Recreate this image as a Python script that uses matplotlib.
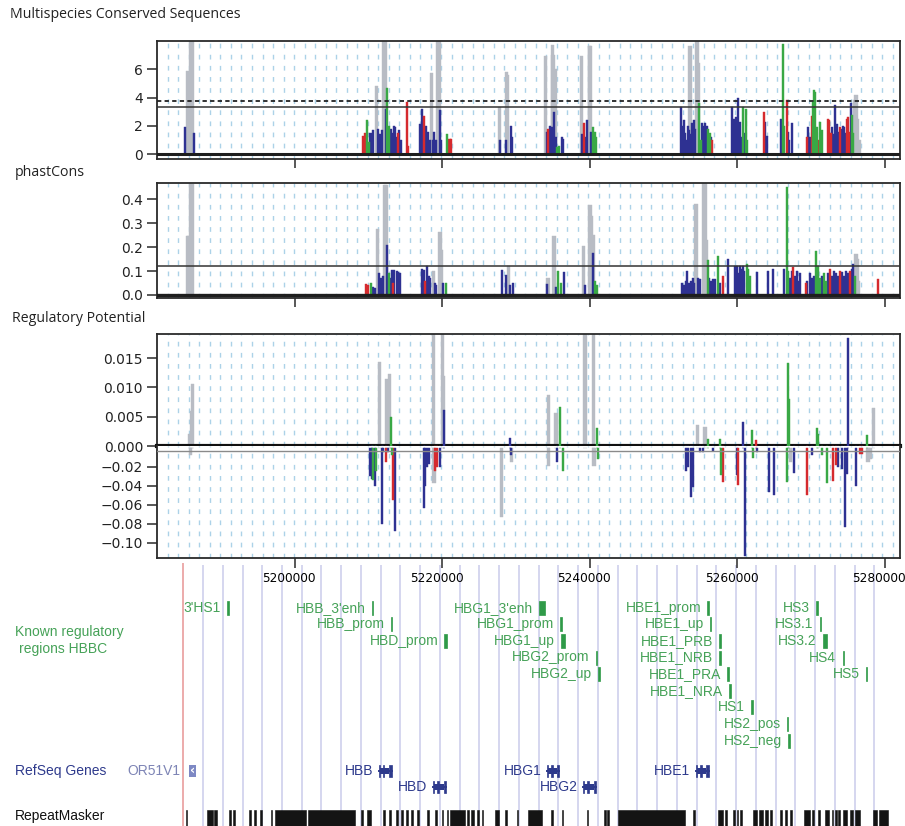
import numpy as np
import matplotlib.pyplot as plt
from matplotlib.patches import Rectangle
from matplotlib.transforms import ScaledTranslation

W, H = 905, 826
XLIM = (5181.29, 5282.04)  # kb
XTICKS = [5200, 5220, 5240, 5260, 5280]
PALETTE = {"b": "#2e3192", "r": "#d52a2e", "g": "#39a845", "y": "#b8bcc4"}
FRAME = "#2a2a2a"
GREEN_TXT = "#46a258"
GREEN_BAR = "#2f9a48"
NAVY = "#2e3a8c"

# ---- Multispecies Conserved Sequences (position kb, score, colour code) ----
mcs_pos = [
    5185.13, 5185.42, 5185.63, 5185.90, 5186.08, 5186.35,
    5209.26, 5209.45, 5209.63, 5209.80, 5210.04, 5210.24, 5210.44, 5210.62, 5211.08, 5211.26,
    5211.46, 5211.66, 5211.84, 5212.07, 5212.21, 5212.34, 5212.52, 5212.71, 5212.88, 5213.06,
    5213.25, 5213.43, 5213.60, 5213.79, 5213.97, 5214.14, 5214.33, 5215.23, 5215.35,
    5216.99, 5217.18, 5217.36, 5217.53, 5217.72, 5217.90, 5218.08, 5218.31, 5218.54, 5218.71,
    5218.85, 5219.12, 5219.39, 5219.53, 5219.66, 5219.80, 5220.57, 5220.95, 5221.16,
    5227.70, 5227.80, 5228.57, 5228.71, 5228.84, 5229.29, 5229.43,
    5234.00, 5234.13, 5234.35, 5234.58, 5234.81, 5234.89, 5234.99, 5235.16, 5235.26, 5235.39,
    5235.57, 5235.80, 5236.16, 5236.38,
    5238.88, 5238.99, 5239.19, 5239.39, 5239.64, 5239.91, 5240.00, 5240.10, 5240.28, 5240.45,
    5240.64, 5240.82,
    5252.34, 5252.52, 5252.71, 5252.89, 5253.06, 5253.25, 5253.43, 5253.56, 5253.70, 5253.87,
    5254.06, 5254.24, 5254.47, 5254.58, 5254.69, 5254.83, 5255.01, 5255.19, 5255.37, 5255.56,
    5255.73, 5255.87, 5256.05, 5256.23, 5256.41, 5256.59,
    5259.30, 5259.46, 5259.67, 5259.84, 5260.03, 5260.21, 5260.38, 5260.57, 5260.75, 5260.93,
    5261.12, 5261.29,
    5263.60, 5263.77, 5263.97,
    5265.90, 5266.21, 5266.35, 5266.67, 5266.85, 5267.03, 5267.35,
    5269.39, 5269.61, 5269.84, 5270.07, 5270.24, 5270.38, 5270.55, 5270.75, 5270.92, 5271.15,
    5271.33, 5271.50,
    5272.28, 5272.45, 5272.64, 5272.82, 5273.00, 5273.18, 5273.36, 5273.53, 5273.73, 5273.90,
    5274.08, 5274.27, 5274.45, 5274.62, 5274.81, 5274.99, 5275.16, 5275.36, 5275.53, 5275.71,
    5275.90, 5276.07, 5276.25, 5276.48,
]
mcs_val = [
    1.9, 5.9, 5.6, 8.5, 8.5, 1.5,
    1.3, 1.5, 1.0, 2.4, 0.9, 1.5, 1.3, 1.7, 4.8, 1.8,
    1.4, 1.2, 1.7, 8.5, 8.5, 3.2, 4.7, 2.0, 1.6, 1.8,
    1.5, 2.0, 1.9, 1.2, 1.5, 1.7, 1.0, 3.7, 0.6,
    2.1, 3.2, 1.9, 2.7, 2.0, 1.5, 1.6, 1.0, 5.7, 1.0,
    1.6, 1.0, 8.5, 8.5, 3.1, 1.0, 1.4, 1.1, 1.1,
    3.3, 1.0, 1.0, 5.8, 5.6, 2.0, 1.2,
    6.9, 1.6, 1.8, 2.0, 1.95, 7.7, 7.0, 3.0, 6.0, 1.2,
    0.55, 0.6, 1.25, 1.1,
    6.9, 1.4, 2.2, 1.2, 2.4, 7.6, 7.6, 1.6, 1.0, 1.95,
    1.6, 1.2,
    3.3, 2.0, 2.4, 1.5, 1.0, 2.0, 1.7, 7.6, 1.4, 2.2,
    2.4, 1.8, 8.5, 8.5, 6.4, 3.6, 1.0, 2.2, 2.0, 2.2,
    1.5, 2.0, 1.8, 1.5, 1.2, 1.0,
    3.35, 2.5, 1.4, 2.6, 4.0, 2.0, 2.3, 1.2, 3.35, 1.5,
    3.2, 1.0,
    3.0, 2.3, 1.3,
    2.5, 7.8, 2.0, 3.8, 1.6, 1.0, 2.2,
    1.2, 1.9, 1.2, 2.7, 3.7, 4.5, 4.4, 1.95, 1.0, 2.25,
    1.4, 1.7,
    2.5, 2.4, 1.5, 1.95, 1.4, 3.5, 1.9, 2.1, 1.6, 1.95,
    1.8, 2.0, 1.9, 1.5, 2.5, 2.6, 1.6, 3.6, 2.8, 1.5,
    3.8, 4.2, 2.5, 1.0,
]
mcs_col = ("byyyyb" "rrrggbbbyb" "bbbyybggbb" "bbbbrbbrr" "bbbrbbbbyb" "bbyybbgrr"
           "ybbyybb" "ybrbbyybyb" "ggbb" "ybrbbyybbg" "gg"
           "bbbbbbbybb" "bbyyyggbbb" "bbggbr" "bbbbbbbbgb" "gg" "rbb" "bggrbbb"
           "rbbrggggrg" "gg" "rrrbbbbbbr" "bbbbrrrbgg" "yyyy")
mcs_dashed = 3.77
mcs_solid = 3.33

# ---- phastCons ----
phc_pos = [
    5185.42, 5185.63, 5185.83, 5186.04,
    5209.67, 5209.86, 5210.27, 5210.54, 5210.81, 5211.22, 5211.43, 5211.66, 5211.90, 5212.21,
    5212.34, 5212.52, 5212.75, 5212.92, 5213.11, 5213.25, 5213.47, 5213.79, 5214.01, 5214.24,
    5217.22, 5217.45, 5217.63, 5217.94, 5218.13, 5218.31, 5218.75, 5218.99, 5219.16, 5219.66,
    5219.84, 5220.03, 5220.48,
    5228.03, 5228.61, 5228.93, 5229.16, 5229.52,
    5234.21, 5234.31, 5235.12, 5235.39, 5235.71, 5236.07, 5236.48,
    5239.09, 5239.33, 5240.00, 5240.14, 5240.37, 5240.50, 5240.68, 5240.95,
    5252.52, 5252.75, 5253.02, 5253.20, 5253.43, 5253.70, 5253.97, 5254.11, 5254.38, 5254.65,
    5254.92, 5255.46, 5255.60, 5255.73, 5255.96, 5256.14, 5256.41, 5256.68, 5256.95, 5257.40,
    5257.63, 5258.00,
    5258.68, 5259.62, 5259.80, 5259.98, 5260.17, 5260.34, 5260.52, 5260.71, 5260.89, 5261.25,
    5261.43, 5261.70, 5262.69,
    5264.10, 5264.78,
    5266.35, 5266.67, 5266.85, 5267.12, 5267.35, 5267.57, 5267.80, 5268.03, 5268.25, 5268.48,
    5269.25, 5269.47, 5269.84, 5270.11, 5270.38, 5270.65, 5270.92, 5271.19, 5271.46, 5271.73,
    5272.01, 5272.28, 5272.55, 5272.82, 5273.09, 5273.36, 5273.63, 5273.90, 5274.17, 5274.45,
    5274.72, 5274.99, 5275.26, 5275.53, 5275.71, 5275.90, 5276.07, 5276.25, 5276.44, 5279.10,
]
phc_val = [
    0.247, 0.247, 0.465, 0.465,
    0.045, 0.04, 0.05, 0.035, 0.03, 0.275, 0.09, 0.07, 0.08, 0.46,
    0.46, 0.21, 0.09, 0.07, 0.105, 0.05, 0.105, 0.1, 0.095, 0.09,
    0.11, 0.105, 0.06, 0.12, 0.08, 0.07, 0.10, 0.05, 0.04, 0.265,
    0.19, 0.05, 0.05,
    0.105, 0.084, 0.12, 0.04, 0.05,
    0.046, 0.07, 0.245, 0.035, 0.1, 0.05, 0.095,
    0.205, 0.04, 0.377, 0.33, 0.175, 0.25, 0.06, 0.04,
    0.05, 0.04, 0.06, 0.1, 0.05, 0.06, 0.07, 0.05, 0.38, 0.07,
    0.065, 0.47, 0.47, 0.23, 0.145, 0.07, 0.06, 0.065, 0.067, 0.163,
    0.05, 0.08,
    0.15, 0.12, 0.11, 0.12, 0.09, 0.12, 0.11, 0.12, 0.1, 0.13,
    0.11, 0.08, 0.098,
    0.1, 0.11,
    0.11, 0.453, 0.1, 0.07, 0.1, 0.116, 0.08, 0.1, 0.06, 0.09,
    0.05, 0.06, 0.09, 0.07, 0.08, 0.185, 0.12, 0.07, 0.08, 0.09,
    0.06, 0.09, 0.11, 0.08, 0.1, 0.09, 0.08, 0.1, 0.095, 0.08,
    0.1, 0.09, 0.1, 0.11, 0.13, 0.08, 0.17, 0.15, 0.06, 0.065,
]
phc_col = ("yyyy" "rrgbbybbby" "ybgbbrbbbb" "bbrbbbybby" "ybg" "bbybb" "byybggb" "ybyybygg"
           "bbbbbbbbyb" "byyygbbbbg" "br" "bbbbbbbbbg" "ggb" "bb" "bggbbrbbbb"
           "rbbbbgggbg" "gbrbbbbrbb" "bbrbbgyyyr")
phc_solid = 0.12

# ---- Regulatory Potential ----
rp_pos = [
    5185.67, 5185.80, 5185.94, 5186.13,
    5210.24, 5210.44, 5210.62, 5210.85, 5210.99, 5211.43, 5211.76, 5211.97, 5212.30, 5212.44,
    5212.57, 5212.79, 5212.98, 5213.11, 5213.33, 5213.56,
    5217.49, 5217.67, 5217.90, 5218.17, 5218.75, 5218.85, 5219.03, 5219.26, 5219.66, 5220.03,
    5220.11, 5220.21,
    5228.03, 5229.16, 5229.29, 5229.39,
    5234.35, 5234.40, 5235.39, 5235.57, 5235.94, 5236.38,
    5239.33, 5240.45, 5240.55, 5240.91, 5241.13,
    5252.98, 5253.25, 5253.66, 5254.01, 5254.61, 5254.92, 5255.37, 5255.60, 5256.05, 5256.72,
    5257.63, 5257.73, 5258.00,
    5259.98, 5260.11, 5260.79, 5261.06, 5261.97, 5262.11, 5262.51, 5262.61, 5264.32, 5264.95,
    5266.67, 5266.89, 5267.03, 5267.22, 5267.67,
    5269.39, 5270.07, 5270.75, 5270.92, 5271.42, 5272.10,
    5273.00, 5273.32, 5273.67, 5274.13, 5274.58, 5274.85, 5274.95, 5276.07, 5276.62, 5276.89,
    5277.52, 5277.70, 5277.97, 5278.42,
]
rp_val = [
    0.002, -0.008, 0.006, 0.0105,
    -0.03, -0.033, -0.034, -0.04, -0.025, 0.0144, -0.08, -0.004, -0.015, 0.0114,
    -0.004, 0.0123, 0.0049, -0.008, -0.055, -0.088,
    -0.064, -0.04, -0.02, -0.017, 0.022, -0.037, -0.024, -0.02, -0.02, 0.022,
    0.012, 0.0062,
    -0.073, 0.0014, -0.008, -0.015,
    0.0087, -0.019, 0.0056, -0.015, 0.0066, -0.025,
    0.022, 0.022, -0.019, 0.003, -0.012,
    -0.024, -0.02, -0.052, -0.041, 0.0036, -0.005, -0.004, 0.0032, 0.0012, -0.003,
    0.0012, -0.029, -0.036,
    -0.029, -0.039, 0.0041, -0.114, 0.0027, -0.011, 0.001, -0.004, -0.047, -0.05,
    -0.036, 0.0141, 0.008, -0.015, -0.027,
    -0.05, -0.008, 0.0031, 0.002, -0.008, -0.037,
    -0.035, -0.018, -0.02, -0.022, -0.083, -0.028, 0.0185, -0.04, -0.007, -0.007,
    0.0018, -0.015, -0.012, 0.0064,
]
rp_col = ("yyyy" "bbgbgybbry" "byggrb" "bbbbyyrrby" "yb" "ybby" "yyybgg" "yyygg"
          "bbbbybbygb" "ggr" "brbbggrbbb" "gggyb" "rbgggg" "rrbbbbbbrr" "gyyy")

# ---- annotation tracks ----
reg_names = ["3'HS1", "HBB_3'enh", "HBB_prom", "HBD_prom", "HBG1_3'enh", "HBG1_prom",
             "HBG1_up", "HBG2_prom", "HBG2_up", "HBE1_prom", "HBE1_up", "HBE1_PRB",
             "HBE1_NRB", "HBE1_PRA", "HBE1_NRA", "HS1", "HS2_pos", "HS2_neg",
             "HS3", "HS3.1", "HS3.2", "HS4", "HS5"]
reg_start = [5190.74, 5210.44, 5213.02, 5220.27, 5233.13, 5235.93, 5236.03, 5240.81, 5241.12,
             5255.93, 5256.27, 5257.53, 5257.53, 5258.64, 5258.89, 5261.80, 5266.71, 5266.92,
             5270.68, 5271.19, 5271.63, 5274.26, 5277.42]
reg_end = [5191.09, 5210.64, 5213.22, 5220.68, 5233.90, 5236.14, 5236.57, 5241.02, 5241.42,
           5256.14, 5256.47, 5257.73, 5257.73, 5258.85, 5259.09, 5262.17, 5266.92, 5267.12,
           5270.89, 5271.39, 5272.18, 5274.47, 5277.63]
reg_row = [0, 0, 1, 2, 0, 1, 2, 3, 4, 0, 1, 2, 3, 4, 5, 6, 7, 8, 0, 1, 2, 3, 4]

gene_names = ["HBB", "HBD", "HBG1", "HBG2", "HBE1"]
gene_start = [5211.39, 5218.71, 5234.17, 5239.05, 5254.38]
gene_end = [5213.16, 5220.48, 5235.80, 5240.82, 5256.14]
gene_row = [0, 1, 0, 1, 0]
gene_exons = [
    [(5211.39, 5211.55), (5211.90, 5212.13), (5212.80, 5213.16)],
    [(5218.71, 5218.90), (5219.30, 5219.55), (5220.20, 5220.48)],
    [(5234.17, 5234.36), (5234.72, 5234.97), (5235.50, 5235.80)],
    [(5239.05, 5239.24), (5239.60, 5239.85), (5240.52, 5240.82)],
    [(5254.38, 5254.57), (5254.93, 5255.18), (5255.80, 5256.14)],
]
or51v1_span = (5185.63, 5186.58)

rep_start = [5185.22, 5188.03, 5189.02, 5191.09, 5191.64, 5193.81, 5194.44, 5195.26, 5196.71,
             5197.29, 5201.76, 5208.99, 5209.72, 5211.98, 5212.79, 5213.70, 5214.42, 5215.05,
             5215.69, 5216.50, 5217.86, 5219.03, 5219.89, 5220.57, 5221.02, 5223.28, 5223.87,
             5224.64, 5225.32, 5227.12, 5228.48, 5230.06, 5231.63, 5234.72, 5236.17, 5239.56,
             5241.90, 5242.35, 5243.84, 5254.01, 5257.40, 5258.31, 5259.43, 5259.90, 5260.34,
             5262.15, 5262.88, 5263.73, 5264.41, 5265.77, 5266.45, 5267.12, 5269.02, 5270.11,
             5270.96, 5271.87, 5272.78, 5273.23, 5273.67, 5274.35, 5275.26, 5275.94, 5278.42,
             5279.23]
rep_end = [5185.40, 5188.84, 5189.36, 5191.28, 5191.91, 5194.08, 5194.71, 5195.53, 5196.88,
           5201.56, 5208.14, 5209.26, 5210.27, 5212.25, 5213.06, 5213.97, 5214.61, 5215.32,
           5215.96, 5216.78, 5218.13, 5219.30, 5220.11, 5220.75, 5223.05, 5223.64, 5224.27,
           5224.99, 5225.54, 5227.71, 5228.71, 5230.28, 5233.45, 5234.95, 5236.38, 5239.77,
           5242.17, 5242.62, 5252.89, 5254.24, 5258.08, 5258.54, 5259.67, 5260.11, 5260.57,
           5262.61, 5263.50, 5264.10, 5264.64, 5266.00, 5266.68, 5267.35, 5269.84, 5270.42,
           5271.19, 5272.45, 5272.99, 5273.46, 5273.90, 5274.81, 5275.63, 5276.62, 5278.88,
           5280.45]


def px_axes(fig, x0, y0, x1, y1):
    return fig.add_axes([x0 / W, 1 - y1 / H, (x1 - x0) / W, (y1 - y0) / H])


def ftext(fig, x, y, s, **kw):
    fig.text(x / W, 1 - y / H, s, va="center", **kw)


def draw_bars(ax, pos, val, col):
    pos, val, col = np.asarray(pos), np.asarray(val), np.array(list(col))
    assert len(pos) == len(val) == len(col), (len(pos), len(val), len(col))
    for c, z in (("y", 2), ("b", 3), ("r", 3), ("g", 3)):
        m = col == c
        ax.bar(pos[m], val[m], width=0.42 if c == "y" else 0.3,
               color=PALETTE[c], linewidth=0.3, edgecolor=PALETTE[c], zorder=z)


def dashed_grid(ax):
    xs = np.arange(5182.78, XLIM[1], 1.424)
    ax.vlines(xs, 0, 1, transform=ax.get_xaxis_transform(), colors="#acd2e8",
              linestyles=(0, (3.4, 4.6)), linewidth=1.0, zorder=1)


def style_axes(ax, tick_len=6.5):
    ax.set_xlim(XLIM)
    ax.set_xticks(XTICKS)
    for s in ax.spines.values():
        s.set_color(FRAME)
        s.set_linewidth(1.3)
    ax.tick_params(axis="y", direction="out", length=7, width=1.1, color=FRAME,
                   labelsize=10, pad=3, labelcolor="#222")
    ax.tick_params(axis="x", direction="out", length=tick_len, width=1.1, color=FRAME,
                   labelbottom=False)


fig = plt.figure(figsize=(W / 100, H / 100), dpi=100)

# panel titles
title_kw = dict(fontsize=10.2, family="Open Sans", color="#222")
ftext(fig, 10, 15, "Multispecies Conserved Sequences", **title_kw)
ftext(fig, 15, 172, "phastCons", **title_kw)
ftext(fig, 12, 319, "Regulatory Potential", **title_kw)

# MCS
ax1 = px_axes(fig, 157, 40.7, 900, 159)
style_axes(ax1)
ax1.set_ylim(-0.33, 8.0)
ax1.set_yticks([0, 2, 4, 6])
dashed_grid(ax1)
draw_bars(ax1, mcs_pos, mcs_val, mcs_col)
ax1.axhline(0, color="#1e1e1e", lw=2.2, zorder=4)
ax1.axhline(mcs_dashed, color="#222", lw=1.3, ls=(0, (2.4, 1.8)), zorder=4)
ax1.axhline(mcs_solid, color="#333", lw=1.1, zorder=4)

# phastCons
ax2 = px_axes(fig, 157, 182.7, 900, 298.3)
style_axes(ax2)
ax2.set_ylim(-0.014, 0.47)
ax2.set_yticks([0, 0.1, 0.2, 0.3, 0.4])
ax2.set_yticklabels(["0.0", "0.1", "0.2", "0.3", "0.4"])
dashed_grid(ax2)
draw_bars(ax2, phc_pos, phc_val, phc_col)
ax2.axhline(0, color="#1e1e1e", lw=2.4, zorder=4)
ax2.axhline(phc_solid, color="#333", lw=1.1, zorder=4)

# Regulatory Potential: positive and negative halves on different scales
rp_v = np.asarray(rp_val)
ax3 = px_axes(fig, 157, 334, 900, 446)
style_axes(ax3, tick_len=8)
ax3.set_ylim(0, 0.0191)
ax3.set_yticks([0, 0.005, 0.010, 0.015])
ax3.set_yticklabels(["0.000", "0.005", "0.010", "0.015"])
ax3.spines["bottom"].set_linewidth(3.0)
ax3.spines["bottom"].set_color("#111")
dashed_grid(ax3)
draw_bars(ax3, rp_pos, np.where(rp_v > 0, rp_v, 0), rp_col)

ax4 = px_axes(fig, 157, 446, 900, 557.7)
style_axes(ax4, tick_len=7)
ax4.spines["top"].set_visible(False)
ax4.set_ylim(-0.1158, 0.0018)
neg_ticks = [-0.02, -0.04, -0.06, -0.08, -0.10]
ax4.set_yticks(neg_ticks)
ax4.set_yticklabels([f"\u2212{abs(t):.2f}" for t in neg_ticks])
ax4.tick_params(axis="x", labelbottom=True, labelsize=8.7, pad=3)
ax4.set_xticklabels([f"{t * 1000:.0f}" for t in XTICKS])
shift = ScaledTranslation(-6 / 100, 0, fig.dpi_scale_trans)
for lab in ax4.get_xticklabels():
    lab.set_transform(lab.get_transform() + shift)
dashed_grid(ax4)
draw_bars(ax4, rp_pos, np.where(rp_v < 0, rp_v, 0), rp_col)
ax4.axhline(-0.0035, color="#8a8a8a", lw=1.0, zorder=4)
for a in (ax1, ax2, ax3, ax4):
    a.set_zorder(2)

# annotation tracks (y in image pixels)
ann = px_axes(fig, 157, 562, 900, 826)
ann.set_zorder(0)
ann.set_xlim(XLIM)
ann.set_ylim(826, 562)
ann.axis("off")
left_edge = 5184.85
ann.vlines(left_edge + 2.678 * np.arange(1, 36), 565, 826, colors="#d2d3ee", lw=1.3, zorder=0)
ann.vlines(left_edge, 563, 826, colors="#eaa5a5", lw=1.3, zorder=0)

txt_kw = dict(family="Liberation Sans", fontsize=10)
for name, s, e, r in zip(reg_names, reg_start, reg_end, reg_row):
    y = 607.7 + 16.6 * r
    ann.add_patch(Rectangle((s, y - 7), e - s, 14, facecolor=GREEN_BAR,
                            edgecolor=GREEN_BAR, lw=0.5, zorder=3))
    ann.annotate(name, (s, y), xytext=(-4.5, 0), textcoords="offset points",
                 ha="right", va="center", color=GREEN_TXT, **txt_kw)

for name, s, e, r, exons in zip(gene_names, gene_start, gene_end, gene_row, gene_exons):
    y = 771 + 16 * r
    ann.plot([s, e], [y, y], color=NAVY, lw=1.4, zorder=3)
    ann.add_patch(Rectangle((exons[0][1], y - 3), exons[2][0] - exons[0][1], 6,
                            facecolor=NAVY, lw=0, zorder=3))
    for es, ee in exons:
        ann.add_patch(Rectangle((es, y - 6), ee - es, 12, facecolor=NAVY,
                                edgecolor=NAVY, lw=0.5, zorder=3))
    ann.annotate(name, (s, y), xytext=(-4, 0), textcoords="offset points",
                 ha="right", va="center", color=NAVY, **txt_kw)

ann.add_patch(Rectangle((or51v1_span[0], 765), or51v1_span[1] - or51v1_span[0], 12,
                        facecolor="#7d88c4", lw=0, zorder=3))
ann.text(sum(or51v1_span) / 2, 770.5, "\u2039", color="white", ha="center", va="center",
         fontsize=9, fontweight="bold", zorder=4)
ann.annotate("OR51V1", (or51v1_span[0], 771), xytext=(-6, 0), textcoords="offset points",
             ha="right", va="center", color="#7d84b5", **txt_kw)

rs, re_ = np.asarray(rep_start), np.asarray(rep_end)
ann.bar(rs, 16, width=re_ - rs, bottom=810, align="edge", color="#141414", lw=0.4,
        edgecolor="#141414", zorder=3)

ftext(fig, 15, 632, "Known regulatory", color=GREEN_TXT, **txt_kw)
ftext(fig, 19, 649, "regions HBBC", color=GREEN_TXT, **txt_kw)
ftext(fig, 15, 771, "RefSeq Genes", color=NAVY, **txt_kw)
ftext(fig, 15, 816, "RepeatMasker", color="#111", **txt_kw)

fig.savefig("out.png", dpi=100)
